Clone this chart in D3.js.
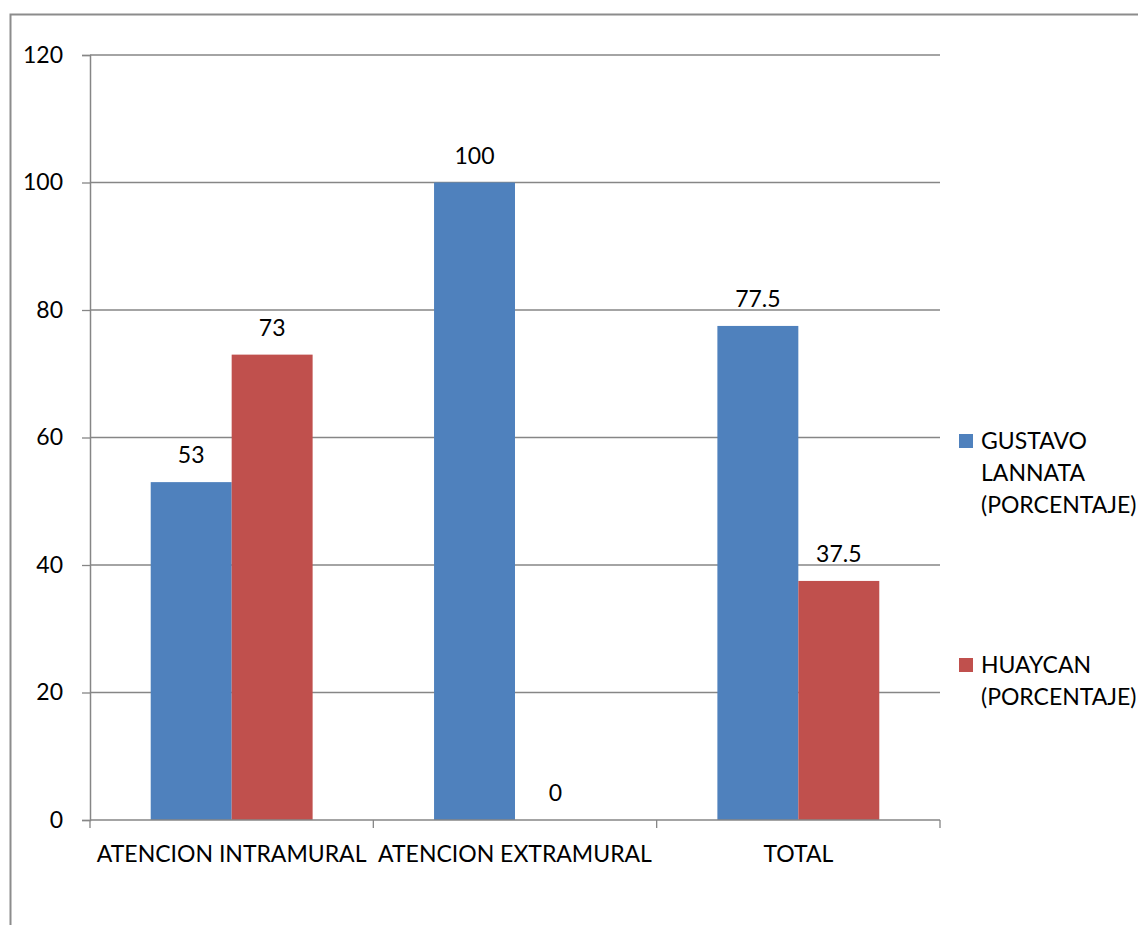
<!DOCTYPE html>
<html>
<head>
<meta charset="utf-8">
<script src="https://cdn.jsdelivr.net/npm/d3@7"></script>
<style>
  html, body { margin: 0; padding: 0; background: #fff; }
  svg text { font-family: Lato, "Open Sans", sans-serif; fill: #000; }
</style>
</head>
<body>
<svg id="chart" width="1138" height="925"></svg>
<script>
const categories = ["ATENCION INTRAMURAL", "ATENCION EXTRAMURAL", "TOTAL"];
const seriesNames = [["GUSTAVO", "LANNATA", "(PORCENTAJE)"], ["HUAYCAN", "(PORCENTAJE)"]];
const gustavoValues = [53, 100, 77.5];
const huaycanValues = [73, 0, 37.5];
const yTicks = [0, 20, 40, 60, 80, 100, 120];
const colors = ["#4F81BD", "#C0504D"];

const FONT = "Lato, 'Open Sans', sans-serif";
const FS = 23;

const svg = d3.select("#chart");
const plot = { left: 90, right: 940, top: 55, bottom: 820 };

// outer chart frame
svg.append("rect")
  .attr("x", 10.5).attr("y", 14.5)
  .attr("width", 1140).attr("height", 940)
  .attr("fill", "none").attr("stroke", "#8c8c8c").attr("stroke-width", 2);

const x = d3.scaleBand().domain(categories).range([plot.left, plot.right]);
const y = d3.scaleLinear().domain([0, 120]).range([plot.bottom, plot.top]);
const inner = d3.scaleBand().domain([0, 1]).range([0, x.bandwidth()]).paddingOuter(0.75).paddingInner(0);

// horizontal gridlines
svg.append("g").selectAll("line").data(yTicks.filter(d => d > 0)).join("line")
  .attr("x1", plot.left).attr("x2", plot.right)
  .attr("y1", d => y(d)).attr("y2", d => y(d))
  .attr("stroke", "#868686").attr("stroke-width", 1.3);

// y axis
const yAxis = svg.append("g").attr("transform", `translate(${plot.left},0)`)
  .call(d3.axisLeft(y).tickValues(yTicks).tickSize(8).tickPadding(19));
yAxis.select(".domain").attr("stroke", "#868686").attr("stroke-width", 1.5);
yAxis.selectAll(".tick line").attr("stroke", "#868686").attr("stroke-width", 1.3);
yAxis.selectAll(".tick text").attr("font-size", FS).attr("font-family", FONT).attr("fill", "#000");

// bars and value labels
const seriesValues = [gustavoValues, huaycanValues];
seriesValues.forEach((vals, si) => {
  svg.append("g").selectAll("rect").data(categories).join("rect")
    .attr("x", c => x(c) + inner(si))
    .attr("width", inner.bandwidth())
    .attr("y", (c, i) => y(vals[i]))
    .attr("height", (c, i) => y(0) - y(vals[i]))
    .attr("fill", colors[si]);
  svg.append("g").selectAll("text").data(categories).join("text")
    .attr("x", c => x(c) + inner(si) + inner.bandwidth() / 2)
    .attr("y", (c, i) => y(vals[i]) - 19)
    .attr("text-anchor", "middle")
    .attr("font-size", FS).attr("font-family", FONT)
    .text((c, i) => vals[i]);
});

// x axis
const xAxis = svg.append("g").attr("transform", `translate(0,${plot.bottom})`)
  .call(d3.axisBottom(x).tickSize(0).tickPadding(26));
xAxis.select(".domain").remove();
svg.append("line").attr("x1", plot.left).attr("x2", plot.right)
  .attr("y1", plot.bottom).attr("y2", plot.bottom)
  .attr("stroke", "#868686").attr("stroke-width", 1.5);
const bounds = categories.map(c => x(c)).concat([plot.right]);
svg.append("g").selectAll("line").data(bounds).join("line")
  .attr("x1", d => d).attr("x2", d => d)
  .attr("y1", plot.bottom).attr("y2", plot.bottom + 8)
  .attr("stroke", "#868686").attr("stroke-width", 1.3);
xAxis.selectAll(".tick text").attr("font-size", FS).attr("font-family", FONT).attr("fill", "#000");

// legend
const legendItems = [{ lines: seriesNames[0], y: 441 }, { lines: seriesNames[1], y: 665 }];
legendItems.forEach((item, i) => {
  const g = svg.append("g");
  g.append("rect").attr("x", 959).attr("y", item.y - 7).attr("width", 14).attr("height", 14).attr("fill", colors[i]);
  item.lines.forEach((ln, j) => {
    g.append("text").attr("x", 981).attr("y", item.y + 8 + j * 32)
      .attr("font-size", FS).attr("font-family", FONT).text(ln);
  });
});
</script>
</body>
</html>
